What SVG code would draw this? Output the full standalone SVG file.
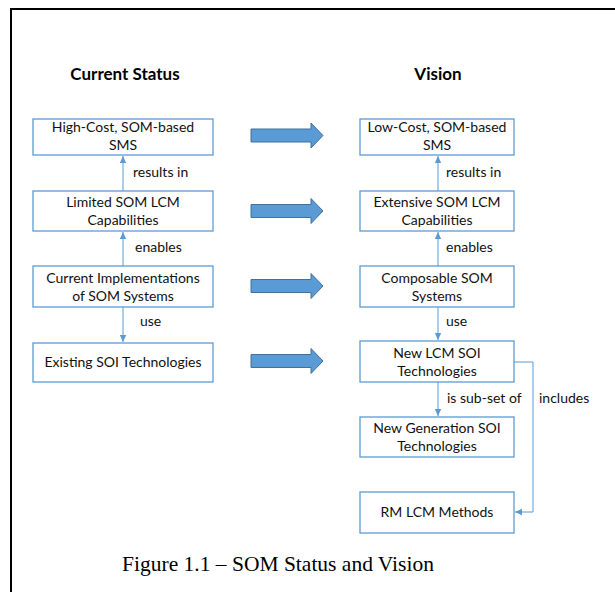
<svg xmlns="http://www.w3.org/2000/svg" width="615" height="592" viewBox="0 0 615 592">
<style>
.box{fill:#fff;stroke:#5B9BD5;stroke-width:1.3}
.t{font-family:Lato,"Liberation Sans",sans-serif;font-size:14px;fill:#111;text-anchor:middle}
.lbl{font-family:Lato,"Liberation Sans",sans-serif;font-size:14px;fill:#111}
.h{font-family:Lato,"Liberation Sans",sans-serif;font-size:17px;font-weight:bold;fill:#000;text-anchor:middle}
.cap{font-family:"Liberation Serif","Times New Roman",serif;font-size:21.5px;fill:#000;text-anchor:middle}
.con{fill:none;stroke:#5B9BD5;stroke-width:1}
.blk{fill:#5B9BD5;stroke:#41719C;stroke-width:1}
</style>
<defs>
<marker id="ah" markerWidth="8" markerHeight="8" refX="7" refY="4" orient="auto" markerUnits="userSpaceOnUse">
<path d="M0,0.8 L7,4 L0,7.2 Z" fill="#5B9BD5"/>
</marker>
</defs>
<rect width="615" height="592" fill="#fff"/>
<path d="M11,593 V9 H616" fill="none" stroke="#000" stroke-width="2"/>
<text class="h" x="125" y="80">Current Status</text>
<text class="h" x="438" y="80">Vision</text>

<g id="connectors">
<line class="con" x1="123" y1="191" x2="123" y2="156" marker-end="url(#ah)"/>
<line class="con" x1="123" y1="266" x2="123" y2="232" marker-end="url(#ah)"/>
<line class="con" x1="123" y1="307" x2="123" y2="342" marker-end="url(#ah)"/>
<line class="con" x1="438" y1="191" x2="438" y2="156" marker-end="url(#ah)"/>
<line class="con" x1="438" y1="266" x2="438" y2="232" marker-end="url(#ah)"/>
<line class="con" x1="438" y1="307" x2="438" y2="340" marker-end="url(#ah)"/>
<line class="con" x1="438" y1="382" x2="438" y2="416" marker-end="url(#ah)"/>
<polyline class="con" points="514,362 533,362 533,512 515,512" marker-end="url(#ah)"/>
<text class="lbl" x="133" y="177">results in</text>
<text class="lbl" x="135" y="252">enables</text>
<text class="lbl" x="140" y="326">use</text>
<text class="lbl" x="446" y="177">results in</text>
<text class="lbl" x="446" y="252">enables</text>
<text class="lbl" x="446" y="326">use</text>
<text class="lbl" x="447" y="403">is sub-set of</text>
<text class="lbl" x="539" y="403">includes</text>
<polygon class="blk" points="251,129 311,129 311,123 323,135.5 311,148 311,142 251,142"/>
<polygon class="blk" points="251,204.5 311,204.5 311,198.5 323,211 311,223.5 311,217.5 251,217.5"/>
<polygon class="blk" points="251,279.5 311,279.5 311,273.5 323,286 311,298.5 311,292.5 251,292.5"/>
<polygon class="blk" points="251,354.5 311,354.5 311,348.5 323,361 311,373.5 311,367.5 251,367.5"/>
</g>

<g id="n1"><rect class="box" x="33" y="119" width="180" height="36"/><text class="t" x="123" y="132">High-Cost, SOM-based</text><text class="t" x="123" y="150">SMS</text></g>
<g id="n2"><rect class="box" x="33" y="191" width="180" height="40"/><text class="t" x="123" y="207">Limited SOM LCM</text><text class="t" x="123" y="225">Capabilities</text></g>
<g id="n3"><rect class="box" x="33" y="266" width="180" height="41"/><text class="t" x="123" y="283">Current Implementations</text><text class="t" x="123" y="301">of SOM Systems</text></g>
<g id="n4"><rect class="box" x="33" y="343" width="180" height="39"/><text class="t" x="123" y="367">Existing SOI Technologies</text></g>

<g id="v1"><rect class="box" x="360" y="119" width="154" height="36"/><text class="t" x="437" y="132">Low-Cost, SOM-based</text><text class="t" x="437" y="150">SMS</text></g>
<g id="v2"><rect class="box" x="360" y="191" width="154" height="40"/><text class="t" x="437" y="207">Extensive SOM LCM</text><text class="t" x="437" y="225">Capabilities</text></g>
<g id="v3"><rect class="box" x="360" y="266" width="154" height="41"/><text class="t" x="437" y="283">Composable SOM</text><text class="t" x="437" y="301">Systems</text></g>
<g id="v4"><rect class="box" x="360" y="341" width="154" height="41"/><text class="t" x="437" y="358">New LCM SOI</text><text class="t" x="437" y="376">Technologies</text></g>
<g id="v5"><rect class="box" x="360" y="417" width="154" height="40"/><text class="t" x="437" y="433">New Generation SOI</text><text class="t" x="437" y="451">Technologies</text></g>
<g id="v6"><rect class="box" x="360" y="492" width="154" height="41"/><text class="t" x="437" y="517">RM LCM Methods</text></g>

<text class="cap" x="278" y="571">Figure 1.1 – SOM Status and Vision</text>
</svg>
